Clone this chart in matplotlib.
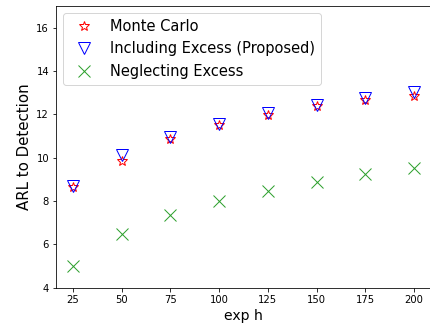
import matplotlib
matplotlib.use("Agg")
import matplotlib.pyplot as plt

# expected h values
exp_h = [25, 50, 75, 100, 125, 150, 175, 200]

# ARL to detection
monte_carlo = [8.65, 9.85, 10.85, 11.5, 11.95, 12.37, 12.68, 12.86]
including_excess = [8.68, 10.11, 10.94, 11.57, 12.05, 12.42, 12.76, 13.03]
neglecting_excess = [4.98, 6.48, 7.37, 8.0, 8.48, 8.89, 9.23, 9.54]

fig = plt.figure(figsize=(430 / 72, 325 / 72), dpi=72)
ax = fig.add_axes([56 / 430, 1 - 287.6 / 325, 375 / 430, (287.6 - 6) / 325])

ax.plot(exp_h, monte_carlo, linestyle='none', marker='*', ms=11,
        mfc='none', mec='red', label='Monte Carlo')
ax.plot(exp_h, including_excess, linestyle='none', marker='v', ms=12,
        mfc='none', mec='blue', label='Including Excess (Proposed)')
ax.plot(exp_h, neglecting_excess, linestyle='none', marker='x', ms=12,
        color='tab:green', label='Neglecting Excess')

ax.set_ylim(4, 17)
ax.set_xticks(exp_h)
ax.set_yticks([4, 6, 8, 10, 12, 14, 16])
ax.tick_params(labelsize=10)
ax.set_xlabel('exp h', fontsize=14)
ax.set_ylabel('ARL to Detection', fontsize=15)
ax.legend(loc='upper left', fontsize=14.6)

fig.savefig('out.png', dpi=72)
